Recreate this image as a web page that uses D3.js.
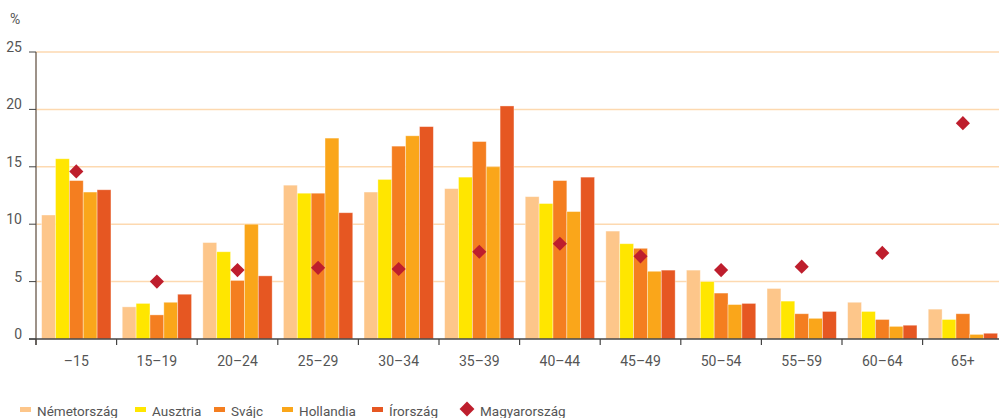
<!DOCTYPE html>
<html>
	<head>
		<meta charset="utf-8">
		<script src="https://d3js.org/d3.v7.min.js"></script>
		<style>
			body { margin: 0; background: #fff; }
			text { font-family: Roboto, "Open Sans", sans-serif; fill: #555; }
		</style>
	</head>
	<body>
		<script type="text/javascript">
			// age groups and values (%)
			var groups = ["\u201315", "15\u201319", "20\u201324", "25\u201329", "30\u201334", "35\u201339",
				"40\u201344", "45\u201349", "50\u201354", "55\u201359", "60\u201364", "65+"];
			var barSeries = ["Németország", "Ausztria", "Svájc", "Hollandia", "Írország"];
			var nemetorszag = [10.8, 2.8, 8.4, 13.4, 12.8, 13.1, 12.4, 9.4, 6.0, 4.4, 3.2, 2.6];
			var ausztria    = [15.7, 3.1, 7.6, 12.7, 13.9, 14.1, 11.8, 8.3, 5.0, 3.3, 2.4, 1.7];
			var svajc       = [13.8, 2.1, 5.1, 12.7, 16.8, 17.2, 13.8, 7.9, 4.0, 2.2, 1.7, 2.2];
			var hollandia   = [12.8, 3.2, 10.0, 17.5, 17.7, 15.0, 11.1, 5.9, 3.0, 1.8, 1.1, 0.4];
			var irorszag    = [13.0, 3.9, 5.5, 11.0, 18.5, 20.3, 14.1, 6.0, 3.1, 2.4, 1.2, 0.5];
			var magyarorszag = [14.6, 5.0, 6.0, 6.2, 6.1, 7.6, 8.3, 7.2, 6.0, 6.3, 7.5, 18.8];
			var yTicks = [0, 5, 10, 15, 20, 25];

			function draw() {
				"use strict";
				var barValues = [nemetorszag, ausztria, svajc, hollandia, irorszag];
				var colors = ["#fdc68a", "#ffe600", "#f47e20", "#faa61a", "#e65722"];
				var diamondColor = "#be1e2d";

				var width = 999, height = 418;
				var left = 36, bottom = 339, plotTop = 52;
				var step = 80.6;

				var svg = d3.select("body").append("svg")
					.attr("width", width)
					.attr("height", height);

				var x0 = d3.scaleBand()
					.domain(groups)
					.range([left, left + step * groups.length])
					.paddingInner(0.14)
					.paddingOuter(0.07);

				var x1 = d3.scaleBand()
					.domain(barSeries)
					.range([0, x0.bandwidth()]);

				var y = d3.scaleLinear()
					.domain([0, 25])
					.range([bottom, plotTop]);

				// gridlines
				svg.append("g")
					.selectAll("line")
					.data(yTicks.filter(function (d) { return d > 0; }))
					.enter().append("line")
						.attr("x1", left)
						.attr("x2", width)
						.attr("y1", function (d) { return y(d); })
						.attr("y2", function (d) { return y(d); })
						.attr("stroke", "#fdd9b0")
						.attr("stroke-width", 1.5);

				// bars
				var g = svg.append("g");
				barSeries.forEach(function (name, i) {
					g.selectAll(".bar-" + i)
						.data(barValues[i])
						.enter().append("rect")
							.attr("class", "bar-" + i)
							.attr("x", function (d, j) { return x0(groups[j]) + x1(name); })
							.attr("y", function (d) { return y(d); })
							.attr("width", x1.bandwidth())
							.attr("height", function (d) { return bottom - y(d); })
							.attr("fill", colors[i])
							.attr("stroke", "#fff")
							.attr("stroke-opacity", 0.45)
							.attr("stroke-width", 0.8);
				});

				// Magyarország diamonds
				var diamond = d3.symbol().type(d3.symbolSquare).size(100);
				svg.append("g")
					.selectAll("path")
					.data(magyarorszag)
					.enter().append("path")
						.attr("d", diamond)
						.attr("transform", function (d, j) {
							return "translate(" + (x0(groups[j]) + x0.bandwidth() / 2) + "," + y(d) + ") rotate(45)";
						})
						.attr("fill", diamondColor);

				// y axis
				svg.append("line")
					.attr("x1", left).attr("x2", left)
					.attr("y1", plotTop).attr("y2", bottom + 6)
					.attr("stroke", "#7d6e62")
					.attr("stroke-width", 1.5);
				svg.append("g")
					.selectAll("line")
					.data(yTicks)
					.enter().append("line")
						.attr("x1", left - 7).attr("x2", left)
						.attr("y1", function (d) { return y(d); })
						.attr("y2", function (d) { return y(d); })
						.attr("stroke", "#444")
						.attr("stroke-width", 1);
				svg.append("g")
					.selectAll("text")
					.data(yTicks)
					.enter().append("text")
						.attr("x", 22)
						.attr("y", function (d) { return y(d); })
						.attr("text-anchor", "end")
						.style("font-size", "14px")
						.text(function (d) { return d; });
				svg.append("text")
					.attr("x", 10)
					.attr("y", 24)
					.style("font-size", "14px")
					.text("%");

				// x axis
				svg.append("line")
					.attr("x1", left - 7).attr("x2", width)
					.attr("y1", bottom).attr("y2", bottom)
					.attr("stroke", "#444")
					.attr("stroke-width", 1.3);
				svg.append("g")
					.selectAll("line")
					.data(groups)
					.enter().append("line")
						.attr("x1", function (d) { return x0(d) - x0.step() * x0.paddingOuter(); })
						.attr("x2", function (d) { return x0(d) - x0.step() * x0.paddingOuter(); })
						.attr("y1", bottom)
						.attr("y2", bottom + 6)
						.attr("stroke", "#444")
						.attr("stroke-width", 1.2);
				svg.append("g")
					.selectAll("text")
					.data(groups)
					.enter().append("text")
						.attr("x", function (d) { return x0(d) + x0.bandwidth() / 2; })
						.attr("y", 366)
						.attr("text-anchor", "middle")
						.style("font-size", "14px")
						.text(function (d) { return d; });

				// legend
				var legendX = [20, 135, 214, 282, 372];
				var legend = svg.append("g");
				barSeries.forEach(function (name, i) {
					legend.append("rect")
						.attr("x", legendX[i])
						.attr("y", 407)
						.attr("width", 11)
						.attr("height", 5)
						.attr("fill", colors[i]);
					legend.append("text")
						.attr("x", legendX[i] + 17)
						.attr("y", 416)
						.style("font-size", "13.5px")
						.text(name);
				});
				legend.append("path")
					.attr("d", d3.symbol().type(d3.symbolSquare).size(110))
					.attr("transform", "translate(467,409) rotate(45)")
					.attr("fill", diamondColor);
				legend.append("text")
					.attr("x", 480)
					.attr("y", 416)
					.style("font-size", "13.5px")
					.text("Magyarország");
			}

			draw();
		</script>
	</body>
</html>
